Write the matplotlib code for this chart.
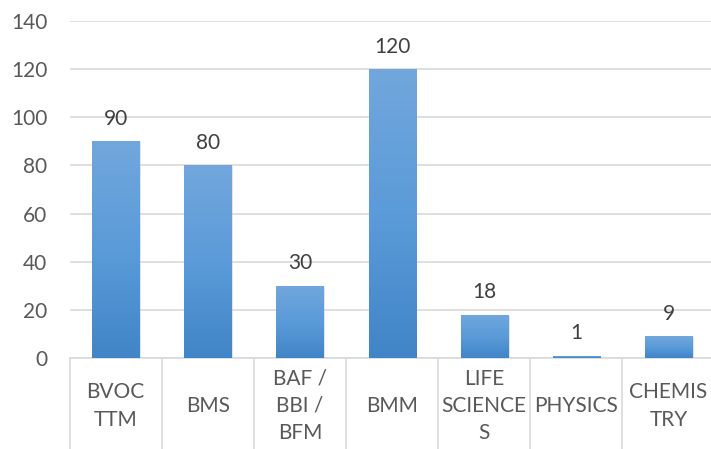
import numpy as np
import matplotlib
matplotlib.use('Agg')
import matplotlib.pyplot as plt
from matplotlib.colors import LinearSegmentedColormap
import matplotlib.transforms as mtransforms

# data
categories = ['BVOC\nTTM', 'BMS', 'BAF /\nBBI /\nBFM', 'BMM', 'LIFE\nSCIENCE\nS', 'PHYSICS', 'CHEMIS\nTRY']
values = [90, 80, 30, 120, 18, 1, 9]
yticks = [0, 20, 40, 60, 80, 100, 120, 140]

plt.rcParams['font.family'] = ['Lato', 'DejaVu Sans']

W, H = 711, 449
fig = plt.figure(figsize=(W/100, H/100), dpi=100)
ax = fig.add_axes([69.5/W, 1-358/H, (714.6-69.5)/W, (358-21)/H])

X = np.arange(len(values))
wide = 0.51
bars = ax.bar(X, values, width=wide, color='none', zorder=3)

# gradient fill, lighter at top
cmap = LinearSegmentedColormap.from_list('g', ['#4085c7', '#5b9bd9', '#71a7dc'])
grad = np.linspace(0, 1, 256).reshape(-1, 1)
for b in bars:
    x0, w, h = b.get_x(), b.get_width(), b.get_height()
    # faint shadow
    ax.bar(x0 + w/2 + 0.02, h, width=w, bottom=-0.4, color='#c8c8c8', alpha=0.5, zorder=2, linewidth=0)
    im = ax.imshow(grad, cmap=cmap, origin='lower', aspect='auto',
                   extent=[x0, x0 + w, 0, h], zorder=3)
    im.set_clip_path(b)

for x, v in zip(X, values):
    ax.annotate(str(v), (x, v), xytext=(0, 9), textcoords='offset points',
                ha='center', va='bottom', fontsize=15, color='#404040')

ax.set_xlim(-0.5, len(values) - 0.5)
ax.set_ylim(0, 140)
ax.set_yticks(yticks)
ax.tick_params(axis='y', length=0, pad=16, labelsize=15, labelcolor='#595959')
ax.set_xticks([])
ax.yaxis.grid(True, color='#d9d9d9', linewidth=1.2)
ax.set_axisbelow(True)
for s in ['top', 'right', 'left']:
    ax.spines[s].set_visible(False)
ax.spines['bottom'].set_color('#d9d9d9')
ax.spines['bottom'].set_linewidth(1.2)

# category separators below the axis
trans = mtransforms.blended_transform_factory(ax.transData, ax.transAxes)
for b in np.arange(-0.5, len(values), 1.0):
    ax.plot([b, b], [0, -0.3], transform=trans, color='#d9d9d9', lw=1.2, clip_on=False)

for x, lab in zip(X, categories):
    ax.text(x, -48/337, lab, transform=trans, ha='center', va='center',
            fontsize=15, color='#595959', linespacing=1.45)

plt.savefig('out.png', dpi=100)
